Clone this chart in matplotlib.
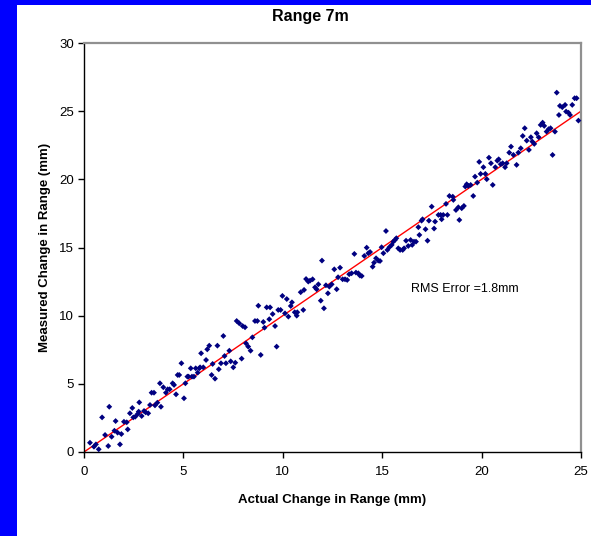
import matplotlib
matplotlib.use("Agg")
import matplotlib.pyplot as plt
from matplotlib.patches import Rectangle

plt.rcParams['font.family'] = ['Liberation Sans', 'DejaVu Sans']

actual_mm = [
    0.30, 0.50, 0.60, 0.74, 1.22, 0.91, 1.27, 1.06, 1.39, 1.53, 1.59, 1.69, 1.81, 1.88, 2.01,
    2.15, 2.20, 2.31, 2.43, 2.48, 2.58, 2.70, 2.78, 2.75, 2.90, 3.02, 3.10, 3.23, 3.32, 3.40,
    3.52, 3.57, 3.69, 3.82, 3.87, 3.99, 4.12, 4.21, 4.31, 4.46, 4.53, 4.63, 4.71, 4.79, 4.90,
    5.03, 5.10, 5.20, 5.26, 5.37, 5.43, 5.53, 5.62, 5.72, 5.80,
    5.84, 6.00, 5.89, 6.14, 6.20, 6.30, 6.42, 6.47, 6.59, 6.71, 6.78, 6.89, 7.01, 7.07, 7.14,
    7.31, 7.38, 7.51, 7.61, 7.68, 7.81, 7.93, 7.98, 8.10, 8.15, 8.26, 8.38, 8.47, 8.60, 8.72,
    8.77, 8.89, 9.02, 9.08, 9.19, 9.32, 9.36, 9.49, 9.61, 9.69, 9.77, 9.89, 9.98, 10.11, 10.20,
    10.28, 10.40, 10.46, 10.60, 10.70, 10.73, 10.90, 11.03, 11.07, 11.17, 11.28,
    11.37, 11.50, 11.62, 11.70, 11.79, 11.91, 11.97, 12.07, 12.17, 12.27, 12.34, 12.46, 12.59,
    12.71, 12.78, 12.88, 13.01, 13.13, 13.24, 13.34, 13.46, 13.60, 13.68, 13.80, 13.88, 13.97,
    14.10, 14.22, 14.30, 14.39, 14.52, 14.59, 14.69, 14.80, 14.89, 14.97, 15.06, 15.19, 15.26,
    15.36, 15.48, 15.56, 15.64, 15.71, 15.81, 15.90, 16.03, 16.10, 16.20, 16.31, 16.43, 16.51,
    16.60, 16.70, 16.82, 16.87,
    16.98, 17.03, 17.18, 17.28, 17.35, 17.49, 17.61, 17.66, 17.83, 17.94, 17.99, 18.07, 18.21,
    18.28, 18.38, 18.55, 18.58, 18.71, 18.83, 18.88, 19.00, 19.11, 19.18, 19.25, 19.33, 19.45,
    19.58, 19.67, 19.78, 19.88, 19.95, 20.09, 20.19, 20.26, 20.37, 20.47, 20.56, 20.69, 20.79,
    20.86, 20.96, 21.06, 21.18, 21.26, 21.39, 21.48, 21.60,
    21.76, 21.85, 21.97, 22.07, 22.17, 22.27, 22.38, 22.48, 22.55, 22.65, 22.77, 22.87, 22.97,
    23.07, 23.15, 23.27, 23.37, 23.47, 23.57, 23.69, 23.78, 23.89, 23.94, 24.06, 24.20, 24.25,
    24.37, 24.45, 24.56, 24.68, 24.78, 24.87,
]
measured_mm = [
    0.68, 0.39, 0.56, 0.20, 0.44, 2.54, 3.32, 1.25, 1.12, 1.56, 2.27, 1.42, 0.56, 1.32, 2.22,
    2.18, 1.66, 2.84, 3.23, 2.54, 2.59, 2.79, 3.64, 2.96, 2.64, 3.01, 2.91, 2.84, 3.45, 4.35,
    4.35, 3.42, 3.62, 5.04, 3.32, 4.75, 4.35, 4.60, 4.60, 5.04, 4.92, 4.23, 5.65, 5.65, 6.51,
    3.94, 5.04, 5.53, 5.53, 6.14, 5.53, 5.53, 6.14, 5.82, 6.14,
    6.21, 6.21, 7.24, 6.75, 7.53, 7.80, 5.65, 6.46, 5.38, 7.80, 6.07, 6.51, 8.51, 7.04, 6.51,
    7.43, 6.65, 6.21, 6.55, 9.61, 9.44, 6.85, 9.24, 9.15, 7.97, 7.73, 7.43, 8.41, 9.61, 9.61,
    10.73, 7.12, 9.54, 9.12, 10.61, 9.74, 10.61, 10.12, 9.24, 7.73, 10.42, 10.42, 11.45, 10.17, 11.22,
    9.93, 10.71, 10.98, 10.25, 10.00, 10.25, 11.72, 10.42, 11.89, 12.69, 12.50,
    12.57, 12.67, 12.08, 11.94, 12.30, 11.10, 14.04, 10.54, 12.23, 11.64, 12.13, 12.30, 13.40,
    11.94, 12.82, 13.52, 12.67, 12.67, 12.62, 13.04, 13.11, 14.53, 13.16, 13.11, 12.94, 12.91,
    14.38, 14.99, 14.58, 14.67, 13.59, 13.89, 14.21, 14.04, 14.01, 15.02, 14.58, 16.21, 14.82,
    15.02, 15.19, 15.43, 15.55, 15.68, 14.94, 14.82, 14.82, 14.94, 15.50, 15.11, 15.55, 15.19,
    15.43, 15.43, 16.49, 15.92,
    16.97, 17.07, 16.34, 15.50, 16.97, 18.00, 16.39, 16.90, 17.39, 17.39, 17.07, 17.39, 18.20,
    17.39, 18.78, 18.73, 18.49, 17.75, 17.95, 17.02, 17.88, 18.05, 19.47, 19.64, 19.52, 19.59,
    18.78, 20.20, 19.76, 21.28, 20.40, 20.89, 20.40, 20.01, 21.59, 21.18, 19.59, 20.89, 21.37,
    21.47, 21.11, 21.18, 20.89, 21.18, 21.96, 22.40, 21.79,
    21.06, 21.96, 22.28, 23.18, 23.75, 22.84, 22.16, 23.09, 22.77, 22.60, 23.38, 23.09, 23.99,
    24.16, 23.92, 23.50, 23.68, 23.75, 21.79, 23.50, 26.36, 24.72, 25.39, 25.29, 25.46, 24.97,
    24.89, 24.72, 25.46, 25.95, 25.95, 24.31,
]
fit_x = [0, 25]
fit_y = [0, 25]

title = "Range 7m"
x_label = "Actual Change in Range (mm)"
y_label = "Measured Change in Range (mm)"
note = "RMS Error =1.8mm"
x_ticks = [0, 5, 10, 15, 20, 25]
y_ticks = [0, 5, 10, 15, 20, 25, 30]

W, H = 591, 536
fig = plt.figure(figsize=(W / 100, H / 100), dpi=100)
fig.patch.set_facecolor('#0000FF')
fig.patches.append(Rectangle((17 / W, 0), 1 - 17 / W, (H - 5) / H,
                             transform=fig.transFigure, facecolor='white',
                             edgecolor='none', zorder=-10))

ax = fig.add_axes([84 / W, (H - 452) / H, 497 / W, 409 / H])
ax.set_zorder(5)
ax.set_facecolor('white')
ax.plot(fit_x, fit_y, color='#FF0000', lw=1.0, zorder=2)
ax.scatter(actual_mm, measured_mm, marker='D', s=9, color='#000080',
           edgecolors='none', zorder=3, clip_on=False)

ax.set_xlim(0, 25)
ax.set_ylim(0, 30)
ax.set_xticks(x_ticks)
ax.set_yticks(y_ticks)
ax.tick_params(direction='out', length=4, width=1, colors='black',
               labelsize=9.5, pad=3)
ax.tick_params(axis='x', pad=6)
for s in ['left', 'bottom']:
    ax.spines[s].set_color('black')
    ax.spines[s].set_linewidth(1.0)
for s in ['top', 'right']:
    ax.spines[s].set_color('#909090')
    ax.spines[s].set_linewidth(1.6)

ax.text(16.45, 11.96, note, fontsize=9, va='center', ha='left')

fig.text(310.5 / W, 1 - 17 / H, title, fontsize=11.5, fontweight='bold',
         ha='center', va='center')
fig.text(332 / W, 1 - 500 / H, x_label, fontsize=9.5, fontweight='bold',
         ha='center', va='center')
fig.text(45 / W, 1 - 247 / H, y_label, fontsize=9.5, fontweight='bold',
         ha='center', va='center', rotation=90)

fig.savefig('out.png', dpi=100, facecolor=fig.get_facecolor())
